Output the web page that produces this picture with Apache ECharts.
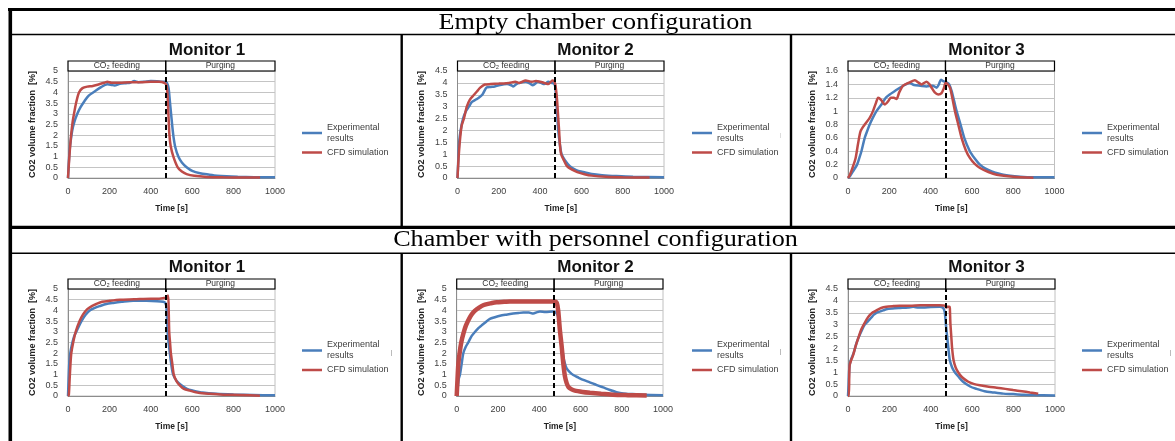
<!DOCTYPE html>
<html><head><meta charset="utf-8">
<script src="https://cdn.jsdelivr.net/npm/echarts@6/dist/echarts.min.js"></script>
<style>html,body{margin:0;padding:0;background:#fff}#c{width:1175px;height:441px}</style>
</head><body><div id="c"></div>
<script>
// ---------------- DATA ----------------
const configTitles = ['Empty chamber configuration', 'Chamber with personnel configuration'];
const panelTitles = ['Monitor 1', 'Monitor 2', 'Monitor 3', 'Monitor 1', 'Monitor 2', 'Monitor 3'];
const seriesNames = ['Experimental results', 'CFD simulation'];
const phaseLabels = ['CO\u2082 feeding', 'Purging'];
const phaseSwitchTime = 472;
const timeMax = 1000;
const timeStep = 200;
const yAxisMax = [5, 4.5, 1.6, 5, 5, 4.5];
const yAxisStep = [0.5, 0.5, 0.2, 0.5, 0.5, 0.5];
const xAxisName = 'Time [s]';
const yAxisName = 'CO2 volume fraction  [%]';

const emptyM1Exp = [[0,0],[5,0.9],[10,1.5],[20,2.2],[30,2.6],[45,3.0],[60,3.3],[80,3.6],[100,3.85],[130,4.05],[160,4.25],[190,4.38],[210,4.35],[225,4.32],[250,4.4],[280,4.43],[300,4.45],[320,4.53],[340,4.48],[370,4.5],[400,4.53],[430,4.52],[455,4.5],[470,4.5],[478,4.45],[486,4.2],[492,3.6],[498,3.0],[504,2.4],[510,1.9],[518,1.45],[533,1.0],[550,0.72],[573,0.5],[600,0.33],[638,0.22],[680,0.16],[720,0.11],[766,0.08],[820,0.06],[900,0.04],[1000,0.03]];
const emptyM1Cfd = [[0,0],[8,1.2],[15,2.0],[22,2.6],[29,3.0],[40,3.55],[53,4.0],[70,4.2],[93,4.27],[120,4.3],[150,4.38],[175,4.45],[190,4.5],[210,4.45],[250,4.45],[300,4.48],[350,4.48],[400,4.5],[440,4.5],[465,4.45],[475,4.35],[480,4.0],[485,3.0],[490,2.0],[496,1.5],[509,1.0],[530,0.5],[550,0.3],[573,0.18],[610,0.1],[670,0.05],[750,0.03],[850,0.02],[928,0.02]];

const emptyM2Exp = [[0,0],[4,0.8],[8,1.5],[15,2.0],[27,2.5],[40,2.8],[55,3.0],[70,3.2],[89,3.3],[100,3.35],[120,3.5],[140,3.8],[160,3.83],[180,3.85],[200,3.9],[240,3.95],[260,3.9],[270,3.85],[285,3.95],[300,4.0],[330,4.05],[350,3.98],[365,3.9],[390,4.05],[405,4.0],[420,3.95],[440,4.05],[455,4.0],[470,3.95],[475,3.7],[480,3.0],[488,2.0],[496,1.4],[504,1.0],[520,0.75],[544,0.5],[575,0.33],[609,0.25],[650,0.17],[700,0.12],[770,0.08],[850,0.05],[1000,0.03]];
const emptyM2Cfd = [[0,0],[5,0.8],[12,1.6],[20,2.2],[31,2.5],[45,3.0],[60,3.3],[80,3.5],[95,3.65],[110,3.8],[132,3.93],[160,3.95],[200,3.97],[250,4.0],[280,4.05],[300,4.0],[330,4.1],[360,4.05],[380,4.08],[400,4.05],[420,4.0],[440,3.95],[460,4.1],[470,4.05],[476,3.8],[482,3.3],[488,2.5],[492,2.0],[496,1.4],[502,1.0],[515,0.75],[530,0.5],[555,0.35],[580,0.25],[615,0.16],[650,0.1],[720,0.05],[800,0.03],[930,0.02]];

const emptyM3Exp = [[0,0],[10,0.03],[24,0.1],[44,0.2],[55,0.3],[65,0.4],[81,0.6],[95,0.72],[105,0.8],[120,0.9],[138,1.0],[162,1.1],[183,1.2],[202,1.25],[227,1.3],[251,1.35],[280,1.4],[299,1.42],[320,1.39],[350,1.38],[380,1.37],[410,1.38],[429,1.35],[440,1.4],[450,1.47],[461,1.45],[477,1.43],[490,1.4],[502,1.3],[514,1.15],[526,1.0],[545,0.8],[563,0.6],[590,0.4],[612,0.3],[639,0.2],[666,0.14],[696,0.1],[752,0.05],[833,0.02],[900,0.01],[1000,0.01]];
const emptyM3Cfd = [[0,0],[8,0.04],[16,0.1],[25,0.18],[37,0.3],[48,0.5],[61,0.7],[81,0.8],[105,0.9],[121,1.0],[135,1.12],[146,1.2],[160,1.17],[178,1.1],[195,1.15],[207,1.2],[222,1.2],[235,1.18],[248,1.28],[267,1.38],[299,1.43],[324,1.46],[340,1.43],[356,1.4],[380,1.44],[395,1.4],[405,1.35],[420,1.28],[437,1.25],[453,1.27],[465,1.35],[472,1.42],[480,1.41],[494,1.35],[505,1.2],[518,1.0],[534,0.8],[550,0.6],[570,0.42],[590,0.3],[614,0.21],[639,0.15],[680,0.09],[720,0.05],[801,0.02],[898,0.005]];

const persM1Exp = [[0,0],[3,0.8],[6,1.5],[11,2.0],[20,2.45],[30,2.8],[40,3.0],[52,3.25],[65,3.5],[85,3.8],[105,4.0],[130,4.12],[153,4.2],[185,4.3],[218,4.35],[260,4.4],[315,4.45],[379,4.45],[430,4.43],[460,4.4],[470,4.35],[476,4.1],[481,3.0],[486,2.5],[492,2.0],[500,1.4],[508,1.0],[525,0.7],[548,0.5],[575,0.33],[605,0.25],[650,0.16],[718,0.1],[800,0.07],[895,0.05],[1000,0.03]];
const persM1Cfd = [[0,0],[4,0.05],[8,0.8],[12,1.5],[16,2.0],[25,2.5],[37,3.0],[56,3.5],[72,3.8],[92,4.05],[115,4.2],[137,4.3],[165,4.4],[202,4.45],[250,4.5],[320,4.52],[400,4.55],[440,4.55],[468,4.58],[478,4.6],[484,4.7],[487,3.8],[489,3.0],[493,2.5],[497,2.0],[504,1.5],[511,1.0],[524,0.7],[540,0.5],[560,0.33],[589,0.25],[630,0.15],[685,0.1],[750,0.06],[831,0.05],[927,0.01]];

const persM2Exp = [[0,0],[5,0.4],[10,0.8],[16,1.0],[24,1.5],[32,2.0],[44,2.3],[56,2.5],[72,2.8],[89,3.0],[105,3.17],[121,3.3],[140,3.45],[161,3.6],[185,3.68],[210,3.75],[240,3.8],[274,3.85],[300,3.88],[323,3.9],[350,3.9],[371,3.85],[390,3.92],[403,3.95],[430,3.93],[468,3.95],[480,3.9],[490,3.75],[497,3.3],[503,2.8],[510,2.3],[517,1.84],[525,1.5],[533,1.29],[548,1.12],[565,0.98],[590,0.86],[614,0.75],[645,0.64],[679,0.51],[710,0.4],[743,0.28],[775,0.18],[808,0.12],[850,0.09],[904,0.06],[1000,0.04]];
const persM2Cfd = [[0,0],[4,0.8],[8,1.5],[14,2.0],[22,2.5],[32,2.9],[45,3.3],[65,3.7],[80,3.9],[97,4.05],[120,4.2],[137,4.27],[165,4.33],[194,4.38],[230,4.4],[258,4.42],[300,4.42],[350,4.42],[400,4.42],[450,4.42],[475,4.42],[485,4.35],[492,4.0],[500,3.1],[509,2.3],[517,1.5],[525,0.9],[533,0.6],[541,0.43],[555,0.32],[573,0.25],[610,0.19],[646,0.15],[700,0.1],[758,0.06],[830,0.04],[921,0.02]];

const persM3Exp = [[0,0],[3,0.5],[5,1.0],[8,1.3],[15,1.55],[27,1.8],[40,2.2],[53,2.5],[66,2.75],[81,3.0],[97,3.15],[113,3.3],[125,3.42],[137,3.5],[153,3.55],[170,3.6],[185,3.65],[215,3.68],[250,3.7],[290,3.72],[315,3.75],[340,3.72],[363,3.72],[400,3.74],[444,3.75],[460,3.7],[465,3.6],[468,3.5],[473,3.0],[479,2.5],[485,2.0],[492,1.5],[503,1.2],[516,1.0],[535,0.8],[556,0.6],[590,0.4],[621,0.3],[660,0.2],[702,0.15],[750,0.1],[798,0.08],[850,0.05],[895,0.04],[1000,0.02]];
const persM3Cfd = [[0,0],[4,0],[6,0.8],[8,1.3],[15,1.5],[24,1.7],[37,2.1],[52,2.5],[64,2.8],[76,3.0],[90,3.22],[105,3.4],[120,3.52],[137,3.6],[160,3.7],[185,3.75],[220,3.78],[250,3.8],[300,3.8],[350,3.82],[400,3.82],[444,3.82],[468,3.8],[475,3.72],[480,3.75],[490,3.75],[492,3.7],[494,3.2],[495,3.0],[499,2.5],[503,2.0],[510,1.5],[520,1.2],[532,1.0],[550,0.8],[581,0.6],[610,0.5],[637,0.45],[680,0.39],[718,0.35],[760,0.3],[798,0.25],[840,0.2],[879,0.15],[919,0.1]];

const panelExp = [emptyM1Exp, emptyM2Exp, emptyM3Exp, persM1Exp, persM2Exp, persM3Exp];
const panelCfd = [emptyM1Cfd, emptyM2Cfd, emptyM3Cfd, persM1Cfd, persM2Cfd, persM3Cfd];

// ---------------- LAYOUT / STYLE ----------------
const plotLeft = [68, 457.5, 848, 68, 456.7, 848];
const plotWidth = [207, 206.5, 206.5, 207, 206.3, 207];
const rowPlotTop = [71, 289];
const plotHeight = 107;
const boxHeight = 10;
const titleCenter = [207, 595.5, 986.5];
const titleTop = [42, 259];
const legendLeft = [302, 692, 1082];
const legendTop = [122, 339.5];
const BLUE = '#4a7ebb', RED = '#be4b48';
const SANS = 'Liberation Sans, Arial, sans-serif';
const NARROW = 'Liberation Sans Narrow, Liberation Sans, sans-serif';

const grid = [], xAxis = [], yAxis = [], series = [], title = [], legend = [];
for (let i = 0; i < 6; i++) {
  const row = Math.floor(i / 3), col = i % 3;
  const top = rowPlotTop[row];
  grid.push({left: plotLeft[i], top: top, width: plotWidth[i], height: plotHeight,
    show: true, borderColor: '#c0c0c0', borderWidth: 1, backgroundColor: 'transparent'});
  xAxis.push({gridIndex: i, type: 'value', min: 0, max: timeMax, interval: timeStep,
    axisLine: {show: true, onZero: false, lineStyle: {color: '#8c8c8c', width: 1}},
    axisTick: {show: false}, splitLine: {show: false},
    axisLabel: {fontSize: 9, color: '#404040', margin: 9, fontFamily: SANS, formatter: v => String(v)},
    name: xAxisName, nameLocation: 'middle', nameGap: 26,
    nameTextStyle: {fontSize: 8.5, fontWeight: 'bold', color: '#222', fontFamily: SANS}});
  yAxis.push({gridIndex: i, type: 'value', min: 0, max: yAxisMax[i], interval: yAxisStep[i],
    axisLine: {show: true, lineStyle: {color: '#8c8c8c', width: 1}},
    axisTick: {show: false},
    splitLine: {show: true, lineStyle: {color: '#c4c4c4', width: 1}},
    axisLabel: {fontSize: 9, color: '#404040', margin: 10, fontFamily: SANS},
    name: yAxisName, nameLocation: 'middle', nameGap: 31,
    nameTextStyle: {fontSize: 9, fontWeight: 'bold', color: '#222', fontFamily: NARROW}});
  series.push({name: seriesNames[0], type: 'line', xAxisIndex: i, yAxisIndex: i, data: panelExp[i],
    showSymbol: false, smooth: 0.25, color: BLUE, lineStyle: {width: 2.5, color: BLUE}, z: 2});
  series.push({name: seriesNames[1], type: 'line', xAxisIndex: i, yAxisIndex: i, data: panelCfd[i],
    showSymbol: false, smooth: 0.25, color: RED, lineStyle: {width: i === 4 ? 4.5 : 2.5, color: RED}, z: 3});
  series.push({type: 'line', xAxisIndex: i, yAxisIndex: i, data: [], z: 5, silent: true,
    markLine: {silent: true, symbol: ['none', 'none'], label: {show: false}, animation: false,
      lineStyle: {color: '#000', type: [5, 3], width: 2}, data: [{xAxis: phaseSwitchTime}]}});
  title.push({text: panelTitles[i], left: titleCenter[col], top: titleTop[row], textAlign: 'center', padding: 0,
    textStyle: {fontSize: 17, fontWeight: 'bold', color: '#111', fontFamily: SANS}});
  legend.push({left: legendLeft[col], top: legendTop[row], orient: 'vertical', icon: 'rect',
    itemWidth: 20, itemHeight: 2.5, itemGap: 3, selectedMode: false, padding: 0,
    data: seriesNames,
    formatter: n => n === seriesNames[0] ? 'Experimental\nresults' : n,
    textStyle: {fontSize: 9, lineHeight: 11, color: '#404040', fontFamily: SANS}});
}
// phase boxes above each plot
for (let i = 0; i < 6; i++) {
  const row = Math.floor(i / 3);
  const gi = 6 + i;
  grid.push({left: plotLeft[i], top: rowPlotTop[row] - boxHeight, width: plotWidth[i], height: boxHeight});
  xAxis.push({gridIndex: gi, type: 'value', min: 0, max: timeMax, show: false});
  yAxis.push({gridIndex: gi, type: 'value', min: 0, max: 1, show: false});
  series.push({type: 'line', xAxisIndex: gi, yAxisIndex: gi, data: [], silent: true,
    markArea: {silent: true, animation: false,
      itemStyle: {color: 'rgba(0,0,0,0)', borderColor: '#000', borderWidth: 1.2},
      label: {show: true, position: 'inside', fontSize: 8.5, color: '#333', fontFamily: SANS},
      data: [[{xAxis: 0, name: phaseLabels[0]}, {xAxis: phaseSwitchTime}],
             [{xAxis: phaseSwitchTime, name: phaseLabels[1]}, {xAxis: timeMax}]]}});
}

// table frame and header texts
const L = (x1, y1, x2, y2, w, c) => ({type: 'line', silent: true, z: 100,
  shape: {x1, y1, x2, y2}, style: {stroke: c || '#000', lineWidth: w}});
const graphic = [
  L(8, 9.5, 1175, 9.5, 3),
  L(10.3, 8, 10.3, 441, 3.6),
  L(12, 34.5, 1175, 34.5, 1.4),
  L(12, 227.3, 1175, 227.3, 3.2),
  L(12, 253.3, 1175, 253.3, 1.4),
  L(401.7, 35, 401.7, 226, 2.4), L(401.7, 254, 401.7, 441, 2.4),
  L(791, 35, 791, 226, 2.4), L(791, 254, 791, 441, 2.4),
  L(391.5, 350, 391.5, 356, 1, '#bbbbbb'), L(780.5, 349, 780.5, 355, 1, '#bbbbbb'),
  L(1170.5, 350, 1170.5, 356, 1, '#bbbbbb'), L(780.5, 133, 780.5, 138, 1, '#dddddd'),
  {type: 'group', x: 595.5, y: 23, scaleX: 1.09, silent: true, children: [
    {type: 'text', style: {text: configTitles[0], x: 0, y: 0, align: 'center', verticalAlign: 'middle',
      fontSize: 24, fontFamily: 'Liberation Serif, Times New Roman, serif', fill: '#000'}}]},
  {type: 'group', x: 595.5, y: 239.5, scaleX: 1.09, silent: true, children: [
    {type: 'text', style: {text: configTitles[1], x: 0, y: 0, align: 'center', verticalAlign: 'middle',
      fontSize: 24, fontFamily: 'Liberation Serif, Times New Roman, serif', fill: '#000'}}]}
];

const chart = echarts.init(document.getElementById('c'), null, {renderer: 'canvas'});
chart.setOption({animation: false, backgroundColor: '#fff', grid, xAxis, yAxis, series, title, legend, graphic});
</script></body></html>
